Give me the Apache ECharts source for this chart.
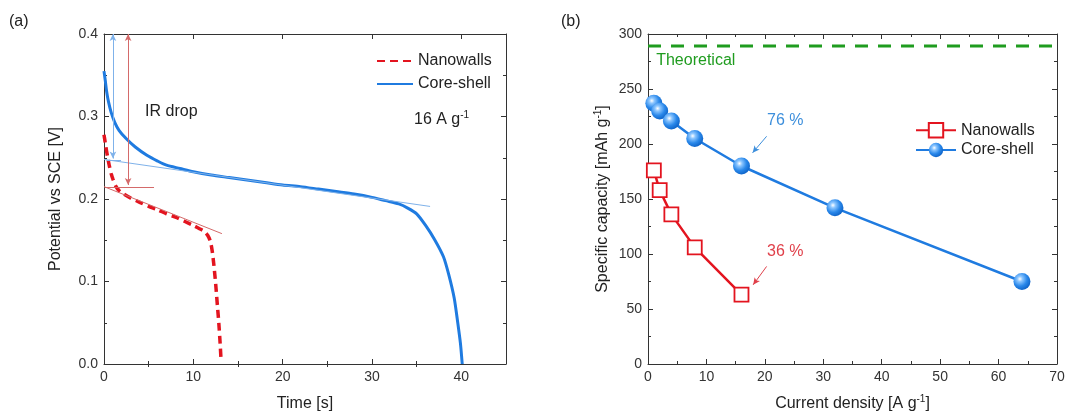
<!DOCTYPE html>
<html>
<head>
<meta charset="utf-8">
<script src="https://cdn.jsdelivr.net/npm/echarts@6/dist/echarts.min.js"></script>
<style>
  html, body { margin: 0; padding: 0; background: #fff; }
  #chart { width: 1065px; height: 414px; }
</style>
</head>
<body>
<div id="chart"></div>
<script>
// (a) Discharge curves at 16 A g-1
const coreTime = [0, 0.15, 0.3, 0.5, 0.8, 1.2, 1.7, 2.5, 3.5, 4.8, 6, 7, 8.5, 10, 12, 14, 16, 18, 20, 22, 24, 26, 28, 30, 31.5, 33, 34, 35, 36, 37, 38, 38.6, 39.2, 39.6, 39.9, 40.1];
const corePotential = [0.355, 0.343, 0.330, 0.318, 0.305, 0.293, 0.283, 0.273, 0.263, 0.253, 0.246, 0.241, 0.237, 0.233, 0.229, 0.226, 0.223, 0.220, 0.217, 0.215, 0.212, 0.209, 0.206, 0.202, 0.198, 0.194, 0.189, 0.182, 0.168, 0.151, 0.130, 0.108, 0.080, 0.050, 0.025, 0.0];
const wallTime = [0, 0.2, 0.4, 0.6, 0.8, 1.0, 1.3, 1.7, 2.2, 3, 4, 5, 6, 7, 8, 9, 10, 10.7, 11.2, 11.6, 11.9, 12.1, 12.3, 12.5, 12.7, 12.85, 13.0, 13.1];
const wallPotential = [0.278, 0.264, 0.251, 0.240, 0.231, 0.224, 0.216, 0.210, 0.206, 0.201, 0.196, 0.191, 0.187, 0.182, 0.178, 0.173, 0.168, 0.164, 0.161, 0.156, 0.149, 0.138, 0.120, 0.097, 0.070, 0.050, 0.025, 0.005];

// (b) Rate capability
const coreCurrent = [1, 2, 4, 8, 16, 32, 64];
const coreCapacity = [237, 230, 221, 205, 180, 142, 75];
const wallCurrent = [1, 2, 4, 8, 16];
const wallCapacity = [176, 158, 136, 106, 63];
const theoreticalCapacity = 289;

// Tick values
const timeMajor = [0, 10, 20, 30, 40];
const timeMinor = [5, 15, 25, 35];

const FONT = '"Liberation Sans", Arial, sans-serif';
const INK = '#333';
const BLUE = '#1f7be0';
const RED = '#e3141f';
const GREEN = '#1f9c1f';

const zip = (xs, ys) => xs.map((x, i) => [x, ys[i]]);

const chart = echarts.init(document.getElementById('chart'), null, { renderer: 'canvas' });

const lineStyleAxis = { color: INK, width: 1 };
const labelStyle = { color: INK, fontSize: 14, fontFamily: FONT, margin: 6 };
const supStyle = { fontSize: 10, fontFamily: FONT, color: '#222', padding: [0, 0, 9, 0] };
const nameStyle = {
  color: '#222', fontSize: 16, fontFamily: FONT,
  rich: { a: { fontSize: 16, fontFamily: FONT, color: '#222' }, sup: supStyle }
};

function mirror(base, pos) {
  return Object.assign({}, base, {
    position: pos, name: '', axisLabel: { show: false }
  });
}

// panel (a) x axes: labelled bottom axis plus overlays for the short ticks
const timeAxis = {
  gridIndex: 0, type: 'value', min: 0, max: 45, interval: 5, position: 'bottom',
  axisLine: { show: true, onZero: false, lineStyle: lineStyleAxis },
  axisTick: { show: true, inside: true, length: 5, customValues: timeMajor, lineStyle: lineStyleAxis },
  axisLabel: Object.assign({ customValues: timeMajor }, labelStyle),
  splitLine: { show: false },
  name: 'Time [s]', nameLocation: 'middle', nameGap: 32, nameTextStyle: nameStyle
};
const timeMinorAxis = {
  gridIndex: 0, type: 'value', min: 0, max: 45, interval: 5, position: 'bottom',
  axisLine: { show: false },
  axisTick: { show: true, inside: true, length: 3, customValues: timeMinor, lineStyle: lineStyleAxis },
  axisLabel: { show: false }, splitLine: { show: false }
};

const currentAxis = {
  gridIndex: 1, type: 'value', min: 0, max: 70, interval: 10, position: 'bottom',
  axisLine: { show: true, onZero: false, lineStyle: lineStyleAxis },
  axisTick: { show: true, inside: true, length: 5, lineStyle: lineStyleAxis },
  minorTick: { show: true, splitNumber: 2, length: 3, lineStyle: lineStyleAxis },
  axisLabel: labelStyle, splitLine: { show: false },
  name: '{a|Current density [A g}{sup|-1}{a|]}', nameLocation: 'middle', nameGap: 30,
  nameTextStyle: nameStyle
};

const potentialAxis = {
  gridIndex: 0, type: 'value', min: 0, max: 0.4, interval: 0.1, position: 'left',
  axisLine: { show: true, onZero: false, lineStyle: lineStyleAxis },
  axisTick: { show: true, inside: true, length: 5, lineStyle: lineStyleAxis },
  minorTick: { show: true, splitNumber: 2, length: 3, lineStyle: lineStyleAxis },
  axisLabel: Object.assign({ formatter: v => v.toFixed(1) }, labelStyle),
  splitLine: { show: false },
  name: 'Potential vs SCE [V]', nameLocation: 'middle', nameGap: 40, nameTextStyle: nameStyle
};

const capacityAxis = {
  gridIndex: 1, type: 'value', min: 0, max: 300, interval: 50, position: 'left',
  axisLine: { show: true, onZero: false, lineStyle: lineStyleAxis },
  axisTick: { show: true, inside: true, length: 5, lineStyle: lineStyleAxis },
  minorTick: { show: true, splitNumber: 2, length: 3, lineStyle: lineStyleAxis },
  axisLabel: labelStyle, splitLine: { show: false },
  name: '{a|Specific capacity [mAh g}{sup|-1}{a|]}', nameLocation: 'middle', nameGap: 36,
  nameTextStyle: nameStyle
};

const sphere = {
  type: 'radial', x: 0.38, y: 0.35, r: 0.7,
  colorStops: [
    { offset: 0, color: '#ffffff' },
    { offset: 0.22, color: '#8cc6ff' },
    { offset: 0.6, color: '#2a88ea' },
    { offset: 1, color: '#0b5fc4' }
  ]
};

function textMark(coord, text, color, align, rich) {
  return {
    coord: coord, symbol: 'circle', symbolSize: 1,
    itemStyle: { color: 'transparent' },
    label: {
      show: true, position: 'inside', formatter: text, color: color,
      fontSize: 16, fontFamily: FONT, align: align || 'left', verticalAlign: 'middle',
      rich: rich
    }
  };
}

const option = {
  animation: false,
  backgroundColor: '#ffffff',
  textStyle: { fontFamily: FONT },
  grid: [
    { left: 104, top: 34, width: 402, height: 330, show: false, outerBoundsMode: 'none' },
    { left: 648, top: 34, width: 409, height: 330, show: false, outerBoundsMode: 'none' }
  ],
  xAxis: [
    timeAxis,
    timeMinorAxis,
    Object.assign({}, timeAxis, { position: 'top', name: '', axisLabel: { show: false } }),
    Object.assign({}, timeMinorAxis, { position: 'top' }),
    currentAxis,
    mirror(currentAxis, 'top')
  ],
  yAxis: [
    potentialAxis,
    mirror(potentialAxis, 'right'),
    capacityAxis,
    mirror(capacityAxis, 'right')
  ],
  legend: [
    {
      data: ['Nanowalls', 'Core-shell'], orient: 'vertical', left: 376, top: 53, padding: 0,
      itemWidth: 36, itemHeight: 14, itemGap: 7,
      itemStyle: { opacity: 0 },
      textStyle: { fontSize: 16, fontFamily: FONT, color: '#222' },
      selectedMode: false
    },
    {
      data: ['Nanowalls rate', 'Core-shell rate'], orient: 'vertical', left: 915, top: 122, padding: 0,
      itemWidth: 40, itemHeight: 18, itemGap: 3.6,
      formatter: n => n.replace(' rate', ''),
      textStyle: { fontSize: 16, fontFamily: FONT, color: '#222' },
      selectedMode: false
    }
  ],
  graphic: [
    { type: 'text', left: 9, top: 14, style: { text: '(a)', fontSize: 16, fontFamily: FONT, fill: '#222' } },
    { type: 'text', left: 561, top: 14, style: { text: '(b)', fontSize: 16, fontFamily: FONT, fill: '#222' } }
  ],
  series: [
    {
      name: 'Core-shell', type: 'line', xAxisIndex: 0, yAxisIndex: 0,
      data: zip(coreTime, corePotential), symbol: 'none', z: 3,
      smooth: 0.25,
      lineStyle: { color: BLUE, width: 3 }, itemStyle: { color: BLUE },
      markLine: {
        silent: true, symbol: 'none', label: { show: false },
        lineStyle: { color: '#7fb2ea', width: 1, type: 'solid' },
        data: [
          [{ coord: [0, 0.248] }, { coord: [36.5, 0.191] }],
          [{ coord: [0.3, 0.247] }, { coord: [1.9, 0.247] }],
          [{ coord: [1.0, 0.400], symbol: 'arrow', symbolSize: [5, 7] },
           { coord: [1.0, 0.249], symbol: 'arrow', symbolSize: [5, 7] }]
        ]
      },
      markPoint: {
        silent: true,
        data: [
          textMark([4.6, 0.306], 'IR drop', '#222'),
          textMark([34.7, 0.296], '{t|16 A g}{s|-1}', '#222', 'left',
            { t: { fontSize: 16, fontFamily: FONT, color: '#222' }, s: supStyle })
        ]
      }
    },
    {
      name: 'Nanowalls', type: 'line', xAxisIndex: 0, yAxisIndex: 0,
      data: zip(wallTime, wallPotential), symbol: 'none', z: 4,
      smooth: 0.25,
      lineStyle: { color: RED, width: 3.5, type: [8, 5] }, itemStyle: { color: RED },
      markLine: {
        silent: true, symbol: 'none', label: { show: false },
        lineStyle: { color: '#d46a6a', width: 1, type: 'solid' },
        data: [
          [{ coord: [0, 0.215] }, { coord: [13.2, 0.158] }],
          [{ coord: [0.1, 0.2145] }, { coord: [5.6, 0.2145] }],
          [{ coord: [2.7, 0.400], symbol: 'arrow', symbolSize: [5, 7] },
           { coord: [2.7, 0.217], symbol: 'arrow', symbolSize: [5, 7] }]
        ]
      }
    },
    {
      name: 'Theoretical', type: 'line', xAxisIndex: 4, yAxisIndex: 2,
      data: [[0, theoreticalCapacity], [70, theoreticalCapacity]], symbol: 'none',
      lineStyle: { color: GREEN, width: 3, type: [13, 10] },
      markPoint: {
        silent: true,
        data: [textMark([1.4, 276], 'Theoretical', GREEN)]
      }
    },
    {
      name: 'Nanowalls rate', type: 'line', xAxisIndex: 4, yAxisIndex: 2,
      data: zip(wallCurrent, wallCapacity), symbol: 'rect', symbolSize: 14, z: 4,
      lineStyle: { color: RED, width: 2.5 },
      itemStyle: { color: '#ffffff', borderColor: RED, borderWidth: 1.8 },
      markLine: {
        silent: true, symbol: ['none', 'arrow'], symbolSize: [5, 7], label: { show: false },
        lineStyle: { color: '#e0404a', width: 1, type: 'solid' },
        data: [[{ coord: [20.3, 88.7] }, { coord: [18.0, 72] }]]
      },
      markPoint: {
        silent: true,
        data: [textMark([23.5, 102.4], '36 %', '#e0404a', 'center')]
      }
    },
    {
      name: 'Core-shell rate', type: 'line', xAxisIndex: 4, yAxisIndex: 2,
      data: zip(coreCurrent, coreCapacity), symbol: 'circle', symbolSize: 17, z: 3,
      lineStyle: { color: BLUE, width: 2.5 },
      itemStyle: { color: sphere, borderWidth: 0 },
      markLine: {
        silent: true, symbol: ['none', 'arrow'], symbolSize: [5, 7], label: { show: false },
        lineStyle: { color: '#3d8fdc', width: 1, type: 'solid' },
        data: [[{ coord: [20.3, 207] }, { coord: [17.9, 192] }]]
      },
      markPoint: {
        silent: true,
        data: [textMark([23.5, 221], '76 %', '#3d8fdc', 'center')]
      }
    }
  ]
};

chart.setOption(option);
</script>
</body>
</html>
